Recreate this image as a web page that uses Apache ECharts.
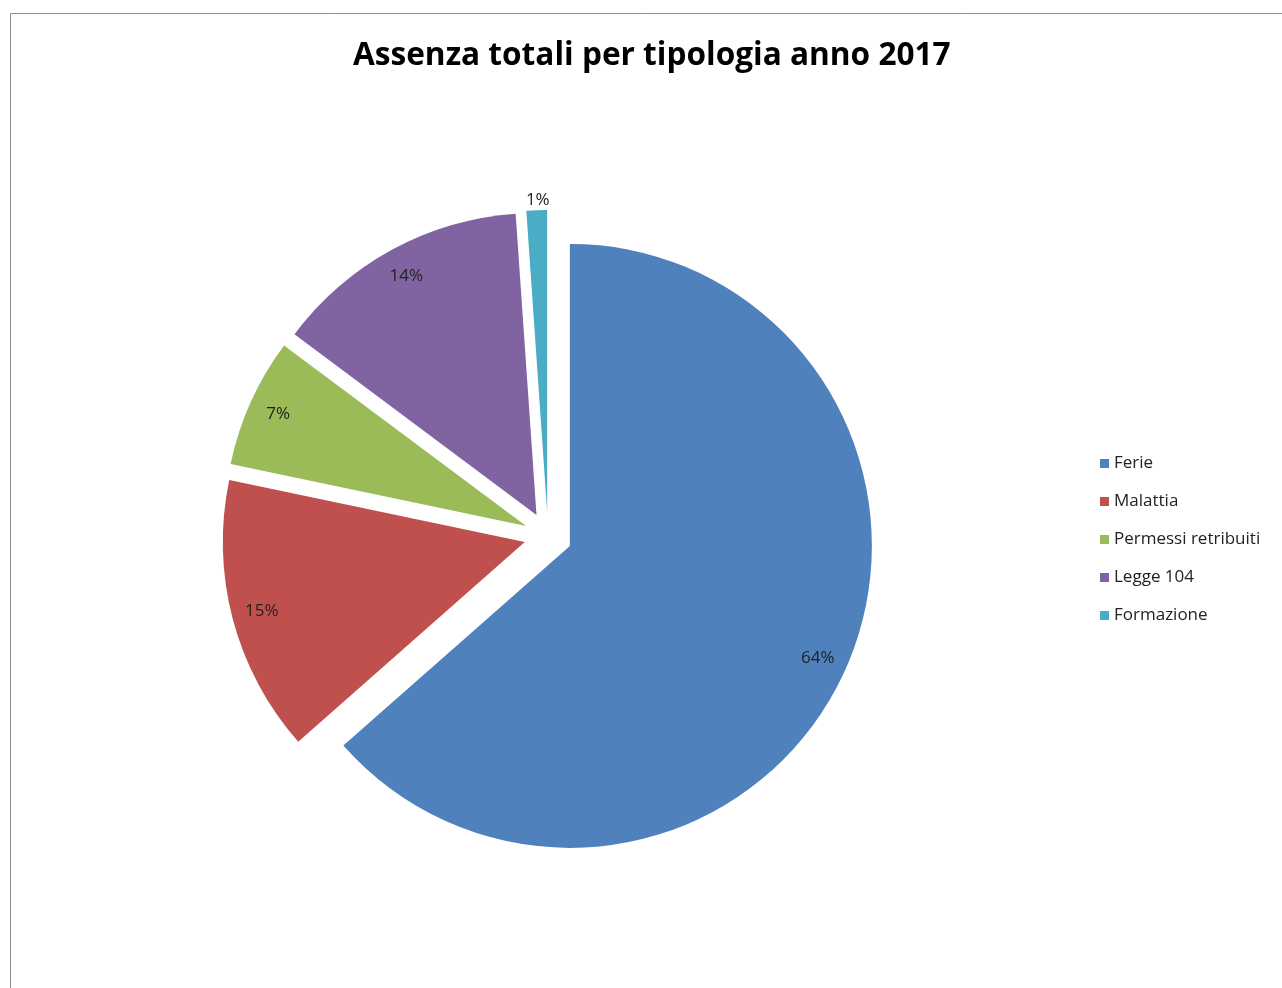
<!DOCTYPE html>
<html>
<head>
<meta charset="utf-8">
<script src="https://cdn.jsdelivr.net/npm/echarts@6/dist/echarts.min.js"></script>
<style>
html,body{margin:0;padding:0;background:#fff;}
#chart{width:1282px;height:988px;}
</style>
</head>
<body>
<div id="chart"></div>
<script>
var categories = ['Ferie', 'Malattia', 'Permessi retribuiti', 'Legge 104', 'Formazione'];
var values = [63.5, 14.8, 6.9, 13.7, 1.1];
var colors = ['#4F81BD', '#C0504D', '#9BBB59', '#8064A2', '#4BACC6'];
var titleText = 'Assenza totali per tipologia anno 2017';

var chart = echarts.init(document.getElementById('chart'));
var center = [548, 536];
var R = 302;
var offset = 24;

var mainData = categories.map(function (c, i) {
  return { name: c, value: values[i], selected: true, itemStyle: { color: colors[i] } };
});
var labelData = categories.map(function (c, i) {
  return { name: c, value: values[i], selected: true };
});

chart.setOption({
  animation: false,
  title: {
    text: titleText,
    left: 348,
    top: 35,
    textStyle: { fontFamily: 'Open Sans', fontWeight: 'bold', fontSize: 31.6, color: '#000' }
  },
  legend: {
    orient: 'vertical',
    left: 1095,
    top: 450,
    itemWidth: 9,
    itemHeight: 9,
    itemGap: 21,
    icon: 'rect',
    selectedMode: false,
    data: categories,
    textStyle: { fontFamily: 'Open Sans', fontSize: 17, color: '#222', lineHeight: 17 }
  },
  graphic: [{
    type: 'rect',
    shape: { x: 10.5, y: 13.5, width: 1400, height: 1100 },
    style: { fill: 'none', stroke: '#8c8c8c', lineWidth: 1 },
    silent: true
  }],
  series: [{
    type: 'pie',
    center: center,
    radius: [0, R],
    startAngle: 90,
    clockwise: true,
    selectedMode: 'multiple',
    selectedOffset: offset,
    silent: true,
    label: { show: false },
    labelLine: { show: false },
    data: mainData
  }, {
    type: 'pie',
    center: center,
    radius: [236, R],
    startAngle: 90,
    clockwise: true,
    selectedMode: 'multiple',
    selectedOffset: offset,
    silent: true,
    itemStyle: { color: 'rgba(0,0,0,0)' },
    label: {
      show: true,
      position: 'inside',
      fontFamily: 'Open Sans',
      fontSize: 17,
      color: '#222',
      formatter: function (p) { return Math.round(p.percent) + '%'; }
    },
    labelLayout: function (p) {
      if (p.dataIndex === 4) { return { dy: -40 }; }
      return {};
    },
    labelLine: { show: false },
    data: labelData
  }]
});
</script>
</body>
</html>
